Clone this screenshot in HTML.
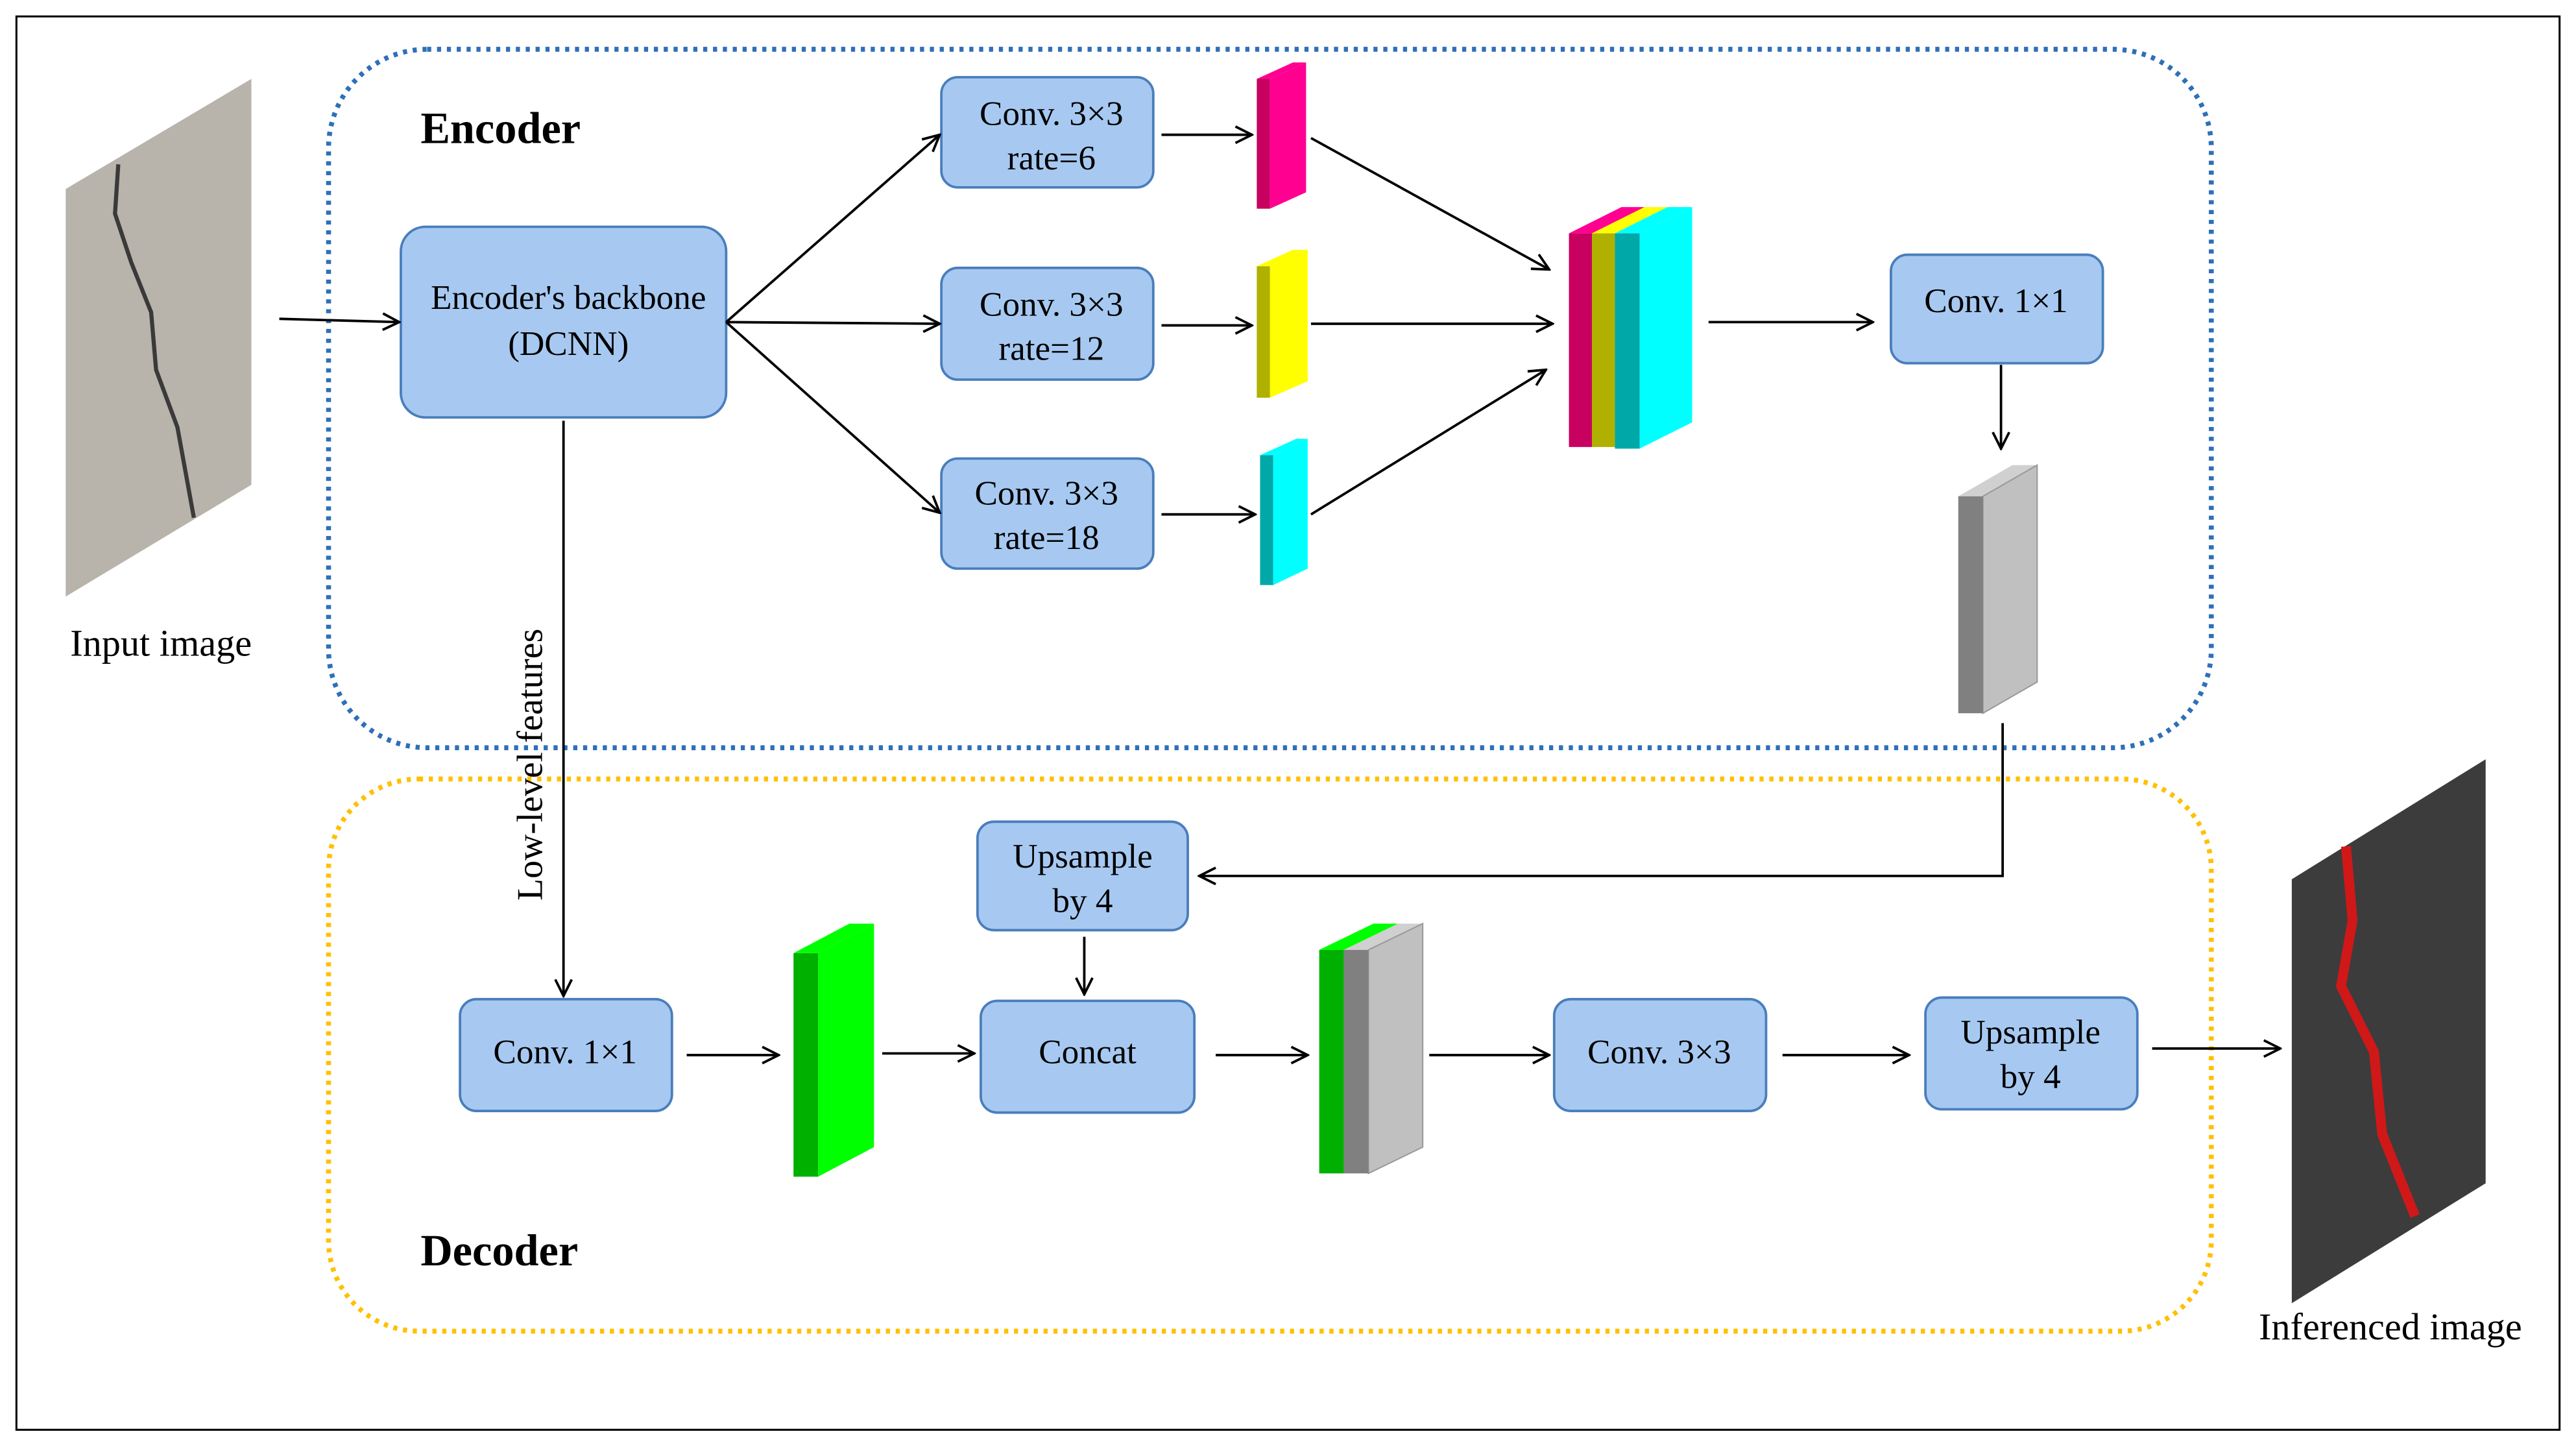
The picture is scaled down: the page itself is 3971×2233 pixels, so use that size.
<!DOCTYPE html>
<html><head><meta charset="utf-8"><style>
html,body{margin:0;padding:0;background:#fff}
svg{display:block}
</style></head><body>
<svg width="3971" height="2233" viewBox="0 0 1568 881.7" preserveAspectRatio="none" xmlns="http://www.w3.org/2000/svg" font-family="'Liberation Serif', 'DejaVu Serif', serif">
<defs>
<marker id="a" markerWidth="12" markerHeight="12" refX="11" refY="6" orient="auto" markerUnits="userSpaceOnUse">
<path d="M1,1 L11,6 L1,11" fill="none" stroke="#000" stroke-width="1.5"/>
</marker>
</defs>
<rect x="10" y="10" width="1548" height="860" fill="#fff" stroke="#000" stroke-width="1.2"/>
<rect x="200" y="30" width="1146" height="425" rx="60" fill="none" stroke="#2e6fb8" stroke-width="3" stroke-dasharray="2.5,3.5"/>
<rect x="200" y="474" width="1146" height="336" rx="55" fill="none" stroke="#ffc000" stroke-width="3" stroke-dasharray="2.5,3.5"/>

<polygon points="40,115 153,48 153,295 40,363" fill="#b8b3ab"/>
<path d="M72,100 L70,130 L80,160 L92,190 L95,225 L108,260 L118,315" fill="none" stroke="#3a3a3a" stroke-width="2.5"/>
<text x="98" y="399" font-size="23" text-anchor="middle" font-family="'Liberation Serif', serif">Input image</text>
<polygon points="1395,535 1513,462 1513,720 1395,793" fill="#3c3c3c"/>
<path d="M1428,515 L1432,560 L1425,600 L1445,640 L1450,690 L1470,740" fill="none" stroke="#d01818" stroke-width="6"/>
<text x="1455" y="815" font-size="23" text-anchor="middle" font-family="'Liberation Serif', serif">Inferenced image</text>

<text x="256" y="87" font-size="27" font-weight="bold" font-family="'Liberation Serif', serif">Encoder</text>
<text x="256" y="770" font-size="27" font-weight="bold" font-family="'Liberation Serif', serif">Decoder</text>

<g fill="#a7c9f1" stroke="#4a7ebb" stroke-width="1.5">
<rect x="244" y="138" width="198" height="116" rx="15"/>
<rect x="573" y="47" width="129" height="67" rx="10"/>
<rect x="573" y="163" width="129" height="68" rx="10"/>
<rect x="573" y="279" width="129" height="67" rx="10"/>
<rect x="1151" y="155" width="129" height="66" rx="10"/>
<rect x="595" y="500" width="128" height="66" rx="10"/>
<rect x="280" y="608" width="129" height="68" rx="10"/>
<rect x="597" y="609" width="130" height="68" rx="10"/>
<rect x="946" y="608" width="129" height="68" rx="10"/>
<rect x="1172" y="607" width="129" height="68" rx="10"/>
</g>
<g font-size="21" text-anchor="middle" font-family="'Liberation Serif', serif">
<text x="346" y="188">Encoder's backbone</text><text x="346" y="216">(DCNN)</text>
<text x="640" y="76">Conv. 3×3</text><text x="640" y="103">rate=6</text>
<text x="640" y="192">Conv. 3×3</text><text x="640" y="219">rate=12</text>
<text x="637" y="307">Conv. 3×3</text><text x="637" y="334">rate=18</text>
<text x="1215" y="190">Conv. 1×1</text>
<text x="659" y="528">Upsample</text><text x="659" y="555">by 4</text>
<text x="344" y="647">Conv. 1×1</text>
<text x="662" y="647">Concat</text>
<text x="1010" y="647">Conv. 3×3</text>
<text x="1236" y="635">Upsample</text><text x="1236" y="662">by 4</text>
</g>
<text transform="translate(330,548) rotate(-90)" font-size="22" font-family="'Liberation Serif', serif">Low-level features</text>

<g stroke="none">
<polygon points="765,48 787,38 795,38 773,48" fill="#ff0090"/>
<polygon points="773,48 795,38 795,117 773,127" fill="#ff0090"/>
<rect x="765" y="48" width="8" height="79" fill="#c8005f"/>
<polygon points="765,162 787,152 796,152 773,162" fill="#ffff00"/>
<polygon points="773,162 796,152 796,232 773,242" fill="#ffff00"/>
<rect x="765" y="162" width="8" height="80" fill="#b0b000"/>
<polygon points="767,277 789,267 796,267 775,277" fill="#00ffff"/>
<polygon points="775,277 796,267 796,346 775,356" fill="#00ffff"/>
<rect x="767" y="277" width="8" height="79" fill="#00a8a8"/>
<polygon points="955,142 987,126 1001,126 969,142" fill="#ff0090"/>
<polygon points="969,142 1001,126 1015,126 983,142" fill="#ffff00"/>
<polygon points="983,142 1015,126 1030,126 998,142" fill="#00ffff"/>
<polygon points="998,142 1030,126 1030,257 998,273" fill="#00ffff"/>
<rect x="955" y="142" width="14" height="130" fill="#c8005f"/>
<rect x="969" y="142" width="14" height="130" fill="#b0b000"/>
<rect x="983" y="142" width="15" height="131" fill="#00a8a8"/>
<polygon points="1192,302 1225,283 1240,283 1207,302" fill="#d0d0d0"/>
<polygon points="1207,302 1240,283 1240,415 1207,434" fill="#c0c0c0" stroke="#999" stroke-width="0.8"/>
<rect x="1192" y="302" width="15" height="132" fill="#808080"/>
<polygon points="483,580 517,562 532,562 498,580" fill="#00ff00"/>
<polygon points="498,580 532,562 532,698 498,716" fill="#00ff00"/>
<rect x="483" y="580" width="15" height="136" fill="#00b000"/>
<polygon points="803,578 836,562 851,562 818,578" fill="#00ff00"/>
<polygon points="818,578 851,562 866,562 833,578" fill="#d0d0d0"/>
<polygon points="833,578 866,562 866,698 833,714" fill="#c0c0c0" stroke="#999" stroke-width="0.8"/>
<rect x="803" y="578" width="15" height="136" fill="#00b000"/>
<rect x="818" y="578" width="15" height="136" fill="#808080"/>
</g>

<g stroke="#000" stroke-width="1.5" fill="none" marker-end="url(#a)">
<line x1="170" y1="194" x2="243" y2="196"/>
<line x1="442" y1="196" x2="572" y2="82"/>
<line x1="442" y1="196" x2="572" y2="197"/>
<line x1="442" y1="196" x2="572" y2="312"/>
<line x1="707" y1="82" x2="762" y2="82"/>
<line x1="707" y1="198" x2="762" y2="198"/>
<line x1="707" y1="313" x2="764" y2="313"/>
<line x1="798" y1="84" x2="943" y2="164"/>
<line x1="798" y1="197" x2="945" y2="197"/>
<line x1="798" y1="313" x2="941" y2="225"/>
<line x1="1040" y1="196" x2="1140" y2="196"/>
<line x1="1218" y1="222" x2="1218" y2="273"/>
<polyline points="1219,440 1219,533 730,533"/>
<line x1="343" y1="256" x2="343" y2="606"/>
<line x1="660" y1="570" x2="660" y2="605"/>
<line x1="418" y1="642" x2="474" y2="642"/>
<line x1="537" y1="641" x2="593" y2="641"/>
<line x1="740" y1="642" x2="796" y2="642"/>
<line x1="870" y1="642" x2="943" y2="642"/>
<line x1="1085" y1="642" x2="1162" y2="642"/>
<line x1="1310" y1="638" x2="1388" y2="638"/>
</g>
</svg>
</body></html>
